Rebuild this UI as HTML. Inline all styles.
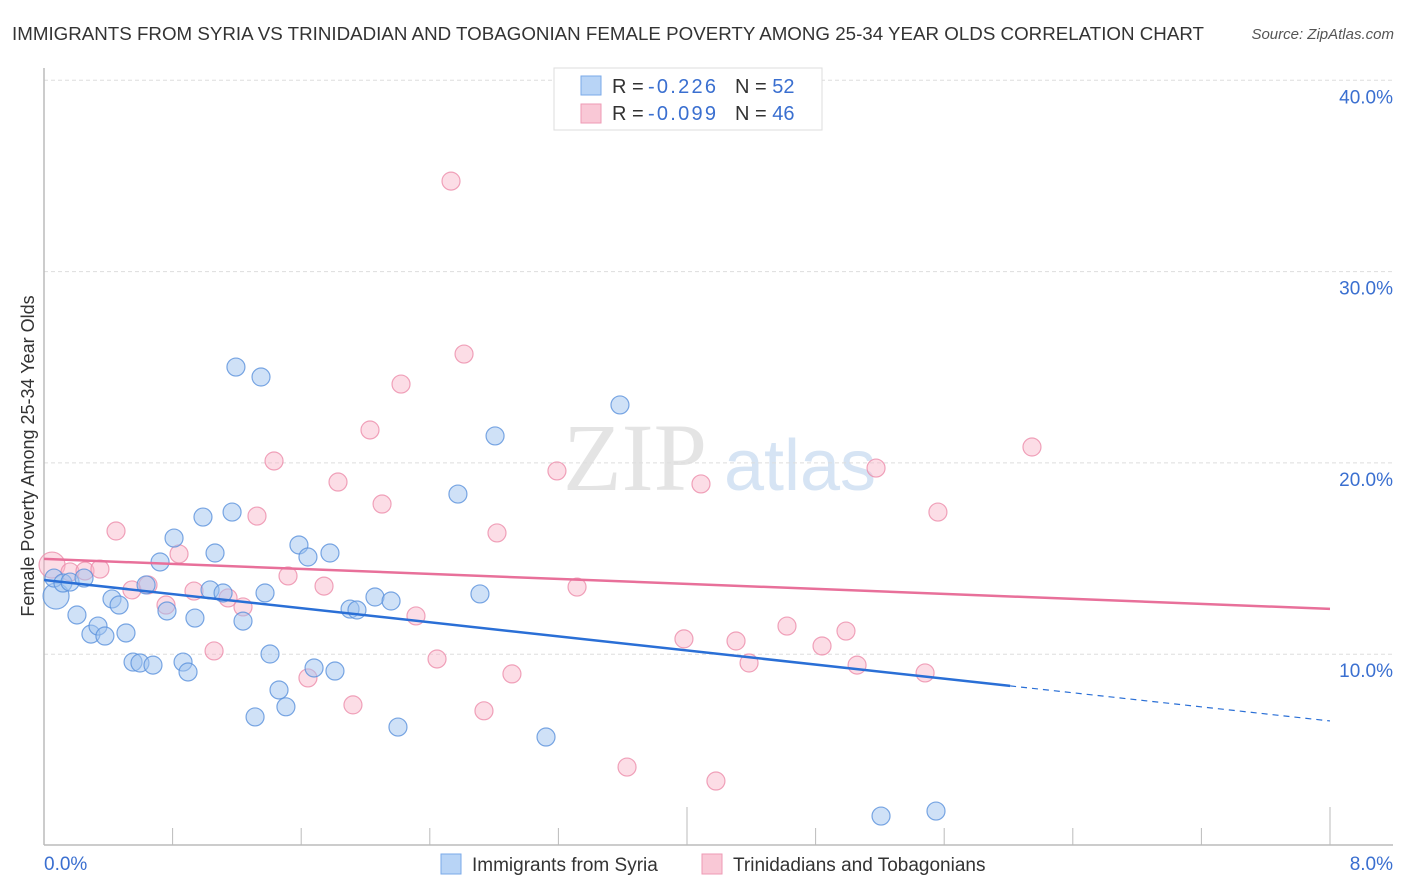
<!DOCTYPE html>
<html><head><meta charset="utf-8"><style>
body{margin:0;background:#fff;font-family:"Liberation Sans",sans-serif;}
svg{display:block}
</style></head><body>
<svg id="c" width="1406" height="892">
<text x="12" y="40" font-size="18.5" fill="#333" textLength="1192" lengthAdjust="spacingAndGlyphs">IMMIGRANTS FROM SYRIA VS TRINIDADIAN AND TOBAGONIAN FEMALE POVERTY AMONG 25-34 YEAR OLDS CORRELATION CHART</text>
<text x="1394" y="39" font-size="15" font-style="italic" fill="#555" text-anchor="end">Source: ZipAtlas.com</text>
<text x="34" y="456" font-size="18" fill="#333" text-anchor="middle" transform="rotate(-90 34 456)">Female Poverty Among 25-34 Year Olds</text>
<g>
<text x="635" y="490" font-size="96" font-family="Liberation Serif,serif" fill="#e4e4e4" text-anchor="middle">ZIP</text>
<text x="800" y="490" font-size="72" fill="#d6e4f4" text-anchor="middle">atlas</text>
</g>
<g id="grid"></g>
<g id="marks"></g>
<g>
<rect x="554" y="68" width="268" height="62" fill="#fff" stroke="#ddd"/>
<rect x="581" y="76" width="20" height="19" fill="#b8d4f6" stroke="#7aaae8"/>
<rect x="581" y="104" width="20" height="19" fill="#f9c8d6" stroke="#ee9ab4"/>
<text x="612" y="93" font-size="20" fill="#333">R = <tspan x="648" fill="#3a6fd0" textLength="68">-0.226</tspan><tspan x="735">N = </tspan><tspan fill="#3a6fd0">52</tspan></text>
<text x="612" y="120" font-size="20" fill="#333">R = <tspan x="648" fill="#3a6fd0" textLength="68">-0.099</tspan><tspan x="735">N = </tspan><tspan fill="#3a6fd0">46</tspan></text>
</g>
<g>
<rect x="441" y="854" width="20" height="20" fill="#b8d4f6" stroke="#7aaae8"/>
<text x="472" y="871" font-size="19" fill="#333">Immigrants from Syria</text>
<rect x="702" y="854" width="20" height="20" fill="#f9c8d6" stroke="#ee9ab4"/>
<text x="733" y="871" font-size="19" fill="#333">Trinidadians and Tobagonians</text>
</g>
</svg>
<script>
const blueX=[0.075,0.062,0.118,0.162,0.249,0.205,0.292,0.336,0.379,0.423,0.467,0.510,0.554,0.597,0.678,0.635,0.722,0.765,0.809,0.865,0.896,0.939,0.989,1.033,1.064,1.114,1.170,1.238,1.194,1.350,1.375,1.406,1.462,1.313,1.505,1.586,1.642,1.680,1.779,1.810,1.904,1.947,2.059,2.159,2.202,2.575,2.712,2.806,3.123,3.583,5.207,5.549];
const blueY=[13.04,13.98,13.72,13.77,13.98,12.05,11.05,11.47,10.95,12.89,12.57,11.11,9.59,9.54,9.43,13.62,14.82,12.26,16.07,9.59,9.07,11.89,17.17,13.36,15.29,13.2,17.43,11.73,25.01,24.49,13.2,10.01,8.13,6.72,7.25,15.71,15.08,9.28,15.29,9.12,12.36,12.31,12.99,12.78,6.19,18.37,13.15,21.41,5.67,23.03,1.54,1.80];
const pinkX=[0.05,0.162,0.255,0.348,0.448,0.547,0.647,0.759,0.840,0.933,1.058,1.145,1.238,1.325,1.431,1.518,1.642,1.742,1.829,1.922,2.028,2.103,2.221,2.314,2.445,2.532,2.613,2.737,2.818,2.911,3.191,3.316,3.627,3.981,4.087,4.180,4.305,4.386,4.622,4.840,4.989,5.058,5.176,5.481,5.561,6.146];
const pinkY=[14.66,14.30,14.35,14.45,16.44,13.36,13.62,12.57,15.24,13.30,10.17,12.94,12.47,17.22,20.10,14.09,8.76,13.56,19.00,7.35,21.72,17.85,24.12,12.0,9.75,34.73,25.69,7.04,16.34,8.97,19.58,13.51,4.10,10.80,18.90,3.37,10.69,9.54,11.47,10.43,11.21,9.43,19.73,9.02,17.43,20.83];
const blueTrend=[13.88,6.51];
const blueSolidEnd=6.01;
const pinkTrend=[14.98,12.37];
const yTicks=[10,20,30,40];
const yTickLabels=["10.0%","20.0%","30.0%","40.0%"];
const xTicks=[0,0.8,1.6,2.4,3.2,4,4.8,5.6,6.4,7.2,8];
const xs=v=>44+v*160.75;
const ys=v=>845.5-v*19.13;
const NS="http://www.w3.org/2000/svg";
function mk(t,a,p){const e=document.createElementNS(NS,t);for(const k in a)e.setAttribute(k,a[k]);p.appendChild(e);return e;}
const g=document.getElementById('grid'),m=document.getElementById('marks');
yTicks.forEach((t,i)=>{
 const l=mk('line',{x1:44,x2:1393,y1:ys(t),y2:ys(t),stroke:'#ddd','stroke-dasharray':'4,3'},g);
 
 
 const tx=mk('text',{x:1393,y:ys(t)+23,'font-size':19,fill:'#3a6fd0','text-anchor':'end'},g);
 tx.textContent=yTickLabels[i];
 
 
});
const ax=mk('line',{x1:44,x2:1393,y1:845,y2:845,stroke:'#bbb','stroke-width':1.5},g);


const ay=mk('line',{x1:44,x2:44,y1:68,y2:845,stroke:'#bbb','stroke-width':1.5},g);


xTicks.forEach((t,i)=>{
 if(i===0)return;
 const tall=(t===4||t===8);
 const l=mk('line',{x1:xs(t),x2:xs(t),y1:tall?807:828,y2:845,stroke:'#bbb'},g);
 
 
});
const x0=mk('text',{x:44,y:870,'font-size':19,fill:'#3a6fd0'},g);x0.textContent='0.0%';


const x8=mk('text',{x:1393,y:870,'font-size':19,fill:'#3a6fd0','text-anchor':'end'},g);x8.textContent='8.0%';


function pts(X,Y,fill,stroke,name){
 X.forEach((x,i)=>{
  const c=mk('circle',{cx:xs(x),cy:ys(Y[i]),r:i===0?13:9,fill:fill,stroke:stroke,'stroke-width':1.2},m);
  
  
 });
}
pts(pinkX,pinkY,'rgba(248,180,200,0.45)','rgba(236,140,170,0.8)','trinidad-point');
pts(blueX,blueY,'rgba(160,196,240,0.5)','rgba(90,145,220,0.8)','syria-point');
const bAt=x=>blueTrend[0]+(blueTrend[1]-blueTrend[0])*x/8;
const t1=mk('line',{x1:xs(0),y1:ys(bAt(0)),x2:xs(blueSolidEnd),y2:ys(bAt(blueSolidEnd)),stroke:'#2a6fd6','stroke-width':2.5},m);


const t2=mk('line',{x1:xs(blueSolidEnd),y1:ys(bAt(blueSolidEnd)),x2:xs(8),y2:ys(bAt(8)),stroke:'#2a6fd6','stroke-width':1.2,'stroke-dasharray':'6,5'},m);


const t3=mk('line',{x1:xs(0),y1:ys(pinkTrend[0]),x2:xs(8),y2:ys(pinkTrend[1]),stroke:'#e8709a','stroke-width':2.5},m);


</script>
</body></html>
